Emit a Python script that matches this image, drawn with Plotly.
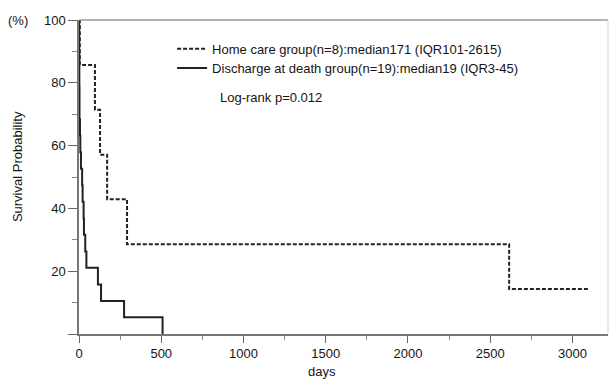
import plotly.graph_objects as go

# Home care group (n=8)
home_days = [0, 5, 97, 128, 171, 292, 2615, 3106]
home_surv = [100, 85.7, 71.4, 57.1, 42.9, 28.6, 14.3, 14.3]

# Discharge at death group (n=19)
dis_days = [0, 1, 1, 2, 2, 3, 3, 6, 8, 12, 19, 22, 28, 30, 38, 45, 115, 134, 274, 508]
dis_surv = [100, 94.7, 89.5, 84.2, 78.9, 73.7, 68.4, 63.2, 57.9, 52.6, 47.4,
            42.1, 36.8, 31.6, 26.3, 21.1, 15.8, 10.5, 5.3, 0]

x_ticks = [0, 500, 1000, 1500, 2000, 2500, 3000]
y_ticks = [0, 20, 40, 60, 80, 100]
y_ticklabels = ["", "20", "40", "60", "80", "100"]

home_name = "Home care group(n=8):median171 (IQR101-2615)"
dis_name = "Discharge at death group(n=19):median19 (IQR3-45)"
pval_text = "Log-rank p=0.012"

FONT = "Liberation Sans, Arial, sans-serif"
TXT = "#151515"
FS = 13

fig = go.Figure()
fig.add_trace(go.Scatter(x=home_days, y=home_surv, mode="lines", line_shape="hv",
                         name=home_name, legend="legend",
                         line=dict(color="#222222", width=2, dash="4px,2px")))
fig.add_trace(go.Scatter(x=dis_days, y=dis_surv, mode="lines", line_shape="hv",
                         name=dis_name, legend="legend2",
                         line=dict(color="#222222", width=2)))

leg_common = dict(x=0.176, xanchor="left", yanchor="middle",
                  bgcolor="rgba(0,0,0,0)", font=dict(size=FS, color=TXT))

fig.update_layout(
    width=611, height=380,
    margin=dict(l=79, r=3, t=20, b=46, autoexpand=False),
    paper_bgcolor="white", plot_bgcolor="white",
    font=dict(family=FONT, size=FS, color=TXT),
    showlegend=True,
    legend=dict(y=0.908, **leg_common),
    legend2=dict(y=0.847, **leg_common),
    xaxis=dict(range=[0, 3216], tickvals=x_ticks, ticks="outside", ticklen=7,
               tickcolor="#666", showline=True, linecolor="#777", linewidth=1.5,
               showgrid=False, zeroline=False, automargin=False,
               minor=dict(dtick=250, tick0=0, ticks="outside", ticklen=4, tickcolor="#888"),
               tickfont=dict(size=FS, color=TXT)),
    yaxis=dict(range=[0, 100], tickvals=y_ticks, ticktext=y_ticklabels,
               ticks="outside", ticklen=9, tickcolor="#666",
               showline=True, linecolor="#777", linewidth=1.5,
               showgrid=False, zeroline=False, automargin=False,
               minor=dict(dtick=10, tick0=0, ticks="outside", ticklen=5, tickcolor="#888"),
               tickfont=dict(size=FS, color=TXT)),
)

# top and right frame lines
fig.add_shape(type="line", xref="paper", yref="paper", x0=0, x1=1, y0=1, y1=1,
              line=dict(color="#999", width=1.5))
fig.add_shape(type="line", xref="paper", yref="paper", x0=1, x1=1, y0=0, y1=1,
              line=dict(color="#d5d5d5", width=1))

fig.add_annotation(text=pval_text, xref="paper", yref="paper", x=0.262, y=0.752,
                   xanchor="left", yanchor="middle", showarrow=False,
                   font=dict(size=FS, color=TXT))
fig.add_annotation(text="(%)", xref="paper", yref="paper", x=-0.115, y=1.0,
                   xanchor="center", yanchor="middle", showarrow=False,
                   font=dict(size=FS, color=TXT))
fig.add_annotation(text="Survival Probability", xref="paper", yref="paper",
                   x=-0.115, y=0.532, textangle=-90,
                   xanchor="center", yanchor="middle", showarrow=False,
                   font=dict(size=FS, color=TXT))
fig.add_annotation(text="days", xref="x", yref="paper", x=1480, y=-0.12,
                   xanchor="center", yanchor="middle", showarrow=False,
                   font=dict(size=FS, color=TXT))

fig.write_html("out.html", config={"displayModeBar": False},
               post_script="document.body.style.margin='0';document.body.style.padding='0';")
